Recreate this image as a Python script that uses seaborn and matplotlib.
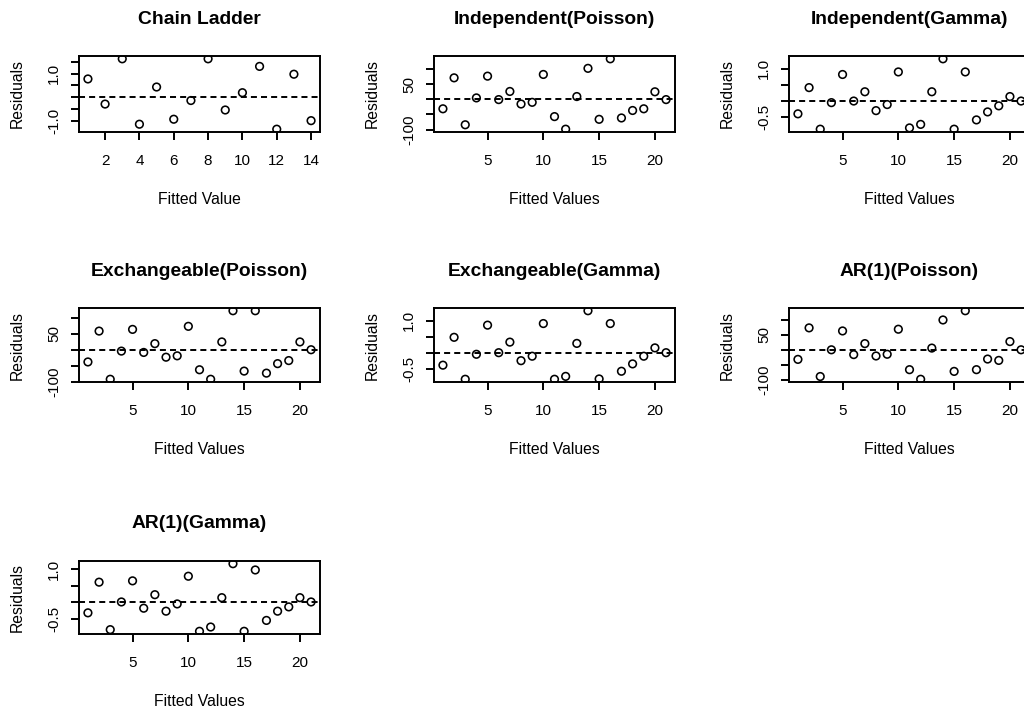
import numpy as np
import pandas as pd
import matplotlib
matplotlib.use("Agg")
import matplotlib.pyplot as plt
import seaborn as sns

# ---------------- data ----------------
titles = ["Chain Ladder", "Independent(Poisson)", "Independent(Gamma)",
          "Exchangeable(Poisson)", "Exchangeable(Gamma)", "AR(1)(Poisson)",
          "AR(1)(Gamma)"]
xlabels = ["Fitted Value", "Fitted Values", "Fitted Values", "Fitted Values",
           "Fitted Values", "Fitted Values", "Fitted Values"]

cl_x = list(range(1, 15))
glm_x = list(range(1, 22))

cl_res = [0.77, -0.29, 1.62, -1.14, 0.43, -0.93, -0.14, 1.62, -0.54, 0.19,
          1.30, -1.35, 0.97, -0.99]
ind_pois = [-31.5, 70.8, -84.3, 4.5, 76.4, -1.1, 25.8, -15.7, -10.1, 82.0,
            -57.3, -98.9, 9.0, 102.2, -66.3, 133.7, -61.8, -37.1, -31.5, 24.7, -1.1]
ind_gamma = [-0.41, 0.41, -0.89, -0.06, 0.82, -0.01, 0.28, -0.31, -0.12, 0.90,
             -0.85, -0.74, 0.28, 1.31, -0.89, 0.90, -0.60, -0.35, -0.16, 0.13, -0.01]
exch_pois = [-38.3, 58.5, -92.6, -4.3, 63.8, -8.5, 19.1, -23.4, -19.1, 73.4,
             -62.8, -92.6, 24.5, 122.3, -67.0, 122.3, -73.4, -43.6, -34.0, 24.5, 0.0]
exch_gamma = [-0.39, 0.48, -0.83, -0.05, 0.86, 0.0, 0.33, -0.25, -0.11, 0.91,
              -0.83, -0.74, 0.29, 1.31, -0.82, 0.91, -0.58, -0.35, -0.11, 0.15, 0.0]
ar1_pois = [-31.8, 72.7, -88.6, 0.0, 62.5, -15.9, 20.5, -20.5, -14.8, 68.2,
            -65.9, -97.7, 5.7, 98.9, -71.6, 129.5, -65.9, -30.7, -35.2, 27.3, 0.0]
ar1_gamma = [-0.32, 0.61, -0.83, 0.01, 0.65, -0.18, 0.23, -0.27, -0.05, 0.79,
             -0.88, -0.75, 0.14, 1.17, -0.88, 0.98, -0.55, -0.27, -0.14, 0.14, 0.01]

cl_xticks = [2, 4, 6, 8, 10, 12, 14]
glm_xticks = [5, 10, 15, 20]

cl_yticks = [-1.0, -0.5, 0.0, 0.5, 1.0, 1.5]
cl_yticklabels = ["-1.0", "", "", "", "1.0", ""]
pois_yticks = [-100, -50, 0, 50, 100]
pois_yticklabels = ["-100", "", "", "50", ""]
gamma_yticks = [-0.5, 0.0, 0.5, 1.0]
gamma_yticklabels = ["-0.5", "", "", "1.0"]

panels = [
    (cl_x, cl_res, cl_xticks, cl_yticks, cl_yticklabels),
    (glm_x, ind_pois, glm_xticks, pois_yticks, pois_yticklabels),
    (glm_x, ind_gamma, glm_xticks, gamma_yticks, gamma_yticklabels),
    (glm_x, exch_pois, glm_xticks, pois_yticks, pois_yticklabels),
    (glm_x, exch_gamma, glm_xticks, gamma_yticks, gamma_yticklabels),
    (glm_x, ar1_pois, glm_xticks, pois_yticks, pois_yticklabels),
    (glm_x, ar1_gamma, glm_xticks, gamma_yticks, gamma_yticklabels),
]

# ---------------- style ----------------
sns.set_theme(style="ticks")
plt.rcParams["font.family"] = ["Liberation Sans", "DejaVu Sans"]
plt.rcParams["axes.linewidth"] = 1.4
plt.rcParams["xtick.major.width"] = 1.4
plt.rcParams["ytick.major.width"] = 1.4

W, H = 1024, 711
fig = plt.figure(figsize=(W / 100, H / 100), dpi=100)
fig.patch.set_facecolor("white")

col_left = [79, 434, 789]
row_top = [56, 308, 561]
row_h = [76, 74, 73]
box_w = 241


def rlim(vals):
    lo, hi = min(vals), max(vals)
    r = hi - lo
    return lo - 0.04 * r, hi + 0.04 * r


for i, (title, xlab, (xs, ys, xt, yt, ytl)) in enumerate(zip(titles, xlabels, panels)):
    r, c = divmod(i, 3)
    left = col_left[c]
    top = row_top[r]
    h = row_h[r]
    ax = fig.add_axes([left / W, (H - top - h) / H, box_w / W, h / H])
    ax.set_facecolor("white")
    df = pd.DataFrame({"x": xs, "y": ys})
    sns.scatterplot(data=df, x="x", y="y", ax=ax, marker="o", s=30,
                    facecolor="none", edgecolor="black", linewidth=1.15,
                    legend=False, zorder=3)
    coll = ax.collections[-1]
    coll.set_facecolor("none")
    coll.set_edgecolor("black")
    ax.axhline(0, color="black", lw=1.4, dashes=(3.1, 2.1), zorder=2)
    ax.set_xlim(*rlim(xs))
    ax.set_ylim(*rlim(ys))
    ax.set_xticks(xt)
    ax.set_xticklabels([str(v) for v in xt])
    ax.set_yticks(yt)
    ax.set_yticklabels(ytl, rotation=90, va="center", ha="right")
    ax.tick_params(axis="both", direction="out", length=5.5, width=1.4,
                   colors="black", labelsize=11)
    ax.tick_params(axis="x", pad=10.5)
    ax.tick_params(axis="y", pad=7.2)
    for sp in ax.spines.values():
        sp.set_visible(True)
        sp.set_color("black")
        sp.set_linewidth(1.4)
    ax.set_xlabel("")
    ax.set_ylabel("")
    ax.annotate(title, xy=(0.5, 1), xycoords="axes fraction",
                xytext=(0, 37), textcoords="offset pixels",
                ha="center", va="center", fontsize=13.9, fontweight="bold",
                color="black")
    ax.annotate(xlab, xy=(0.5, 0), xycoords="axes fraction",
                xytext=(0, -68), textcoords="offset pixels",
                ha="center", va="center", fontsize=11.3, color="black")
    ax.annotate("Residuals", xy=(0, 0.5), xycoords="axes fraction",
                xytext=(-62, 0), textcoords="offset pixels",
                ha="center", va="center", rotation=90, fontsize=11.3,
                color="black")

fig.savefig("out.png", dpi=100, facecolor="white")
